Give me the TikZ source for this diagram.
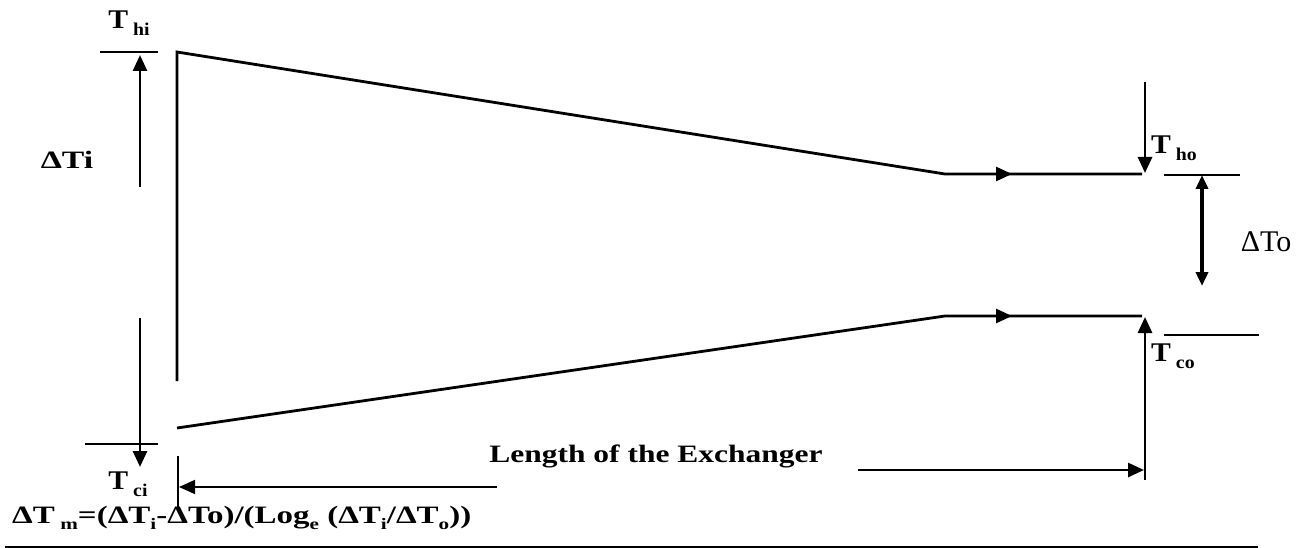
\documentclass[tikz,border=0pt]{standalone}
\usepackage{graphicx}
\usepackage{fontspec}
\setmainfont{Liberation Serif}
\usetikzlibrary{arrows.meta}
\newcommand\sbs[2][16]{\raisebox{-0.25em}{\fontsize{#1}{#1}\selectfont #2}}
\newcommand\Tlab[1]{\scalebox{1.1}[1]{\fontsize{27}{27}\selectfont\bfseries T\,\sbs[18]{#1}}}
\tikzset{
  main/.style={line width=2.8pt},
  thin/.style={line width=1.2pt},
  tip/.style={-{Triangle[width=14pt,length=16pt]}},
  tips/.style={{Triangle[width=12pt,length=14pt]}-{Triangle[width=12pt,length=14pt]}},
  lab/.style={inner sep=0pt},
  bigbold/.style={font=\fontsize{25}{25}\selectfont\bfseries},
}
\begin{document}
\begin{tikzpicture}[x=1pt,y=-1pt]
\useasboundingbox (0,0) rectangle (1311,548);
% key points
\coordinate (hv) at (177,381);
\coordinate (h0) at (177,52);
\coordinate (h1) at (945,174);
\coordinate (hm) at (1012,174);
\coordinate (h2) at (1142,174);
\coordinate (c0) at (177,428);
\coordinate (c1) at (945,316);
\coordinate (cm) at (1012,316);
\coordinate (c2) at (1142,316);
% hot and cold lines
\draw[main] (hv) -- (h0) -- (h1) -- (h2);
\draw[main,tip] (h1) -- (hm);
\draw[main] (c0) -- (c1) -- (c2);
\draw[main,tip] (c1) -- (cm);
% left ticks and Delta Ti arrows
\coordinate (tkl1) at (100,52);
\coordinate (tkl2) at (158,52);
\draw[thin] (tkl1) -- (tkl2);
\coordinate (tkl3) at (85,444);
\coordinate (tkl4) at (158,444);
\draw[thin] (tkl3) -- (tkl4);
\coordinate (ua0) at (140,187);
\coordinate (ua1) at (140,55);
\draw[main,tip] (ua0) -- (ua1);
\coordinate (da0) at (140,318);
\coordinate (da1) at (140,467);
\draw[main,tip] (da0) -- (da1);
\node[lab,bigbold] (dti) at (67,160) {\scalebox{1.35}[1]{ΔTi}};
\node[lab] (thi) at (129,23) {\Tlab{hi}};
\node[lab] (tci) at (128,484) {\Tlab{ci}};
% right side
\coordinate (tho0) at (1145,82);
\coordinate (tho1) at (1145,173);
\draw[main,tip] (tho0) -- (tho1);
\node[lab,anchor=west] (tho) at (1151,148) {\Tlab{ho}};
\coordinate (tkr1) at (1164,175);
\coordinate (tkr2) at (1240,175);
\draw[thin] (tkr1) -- (tkr2);
\coordinate (dto0) at (1202,175);
\coordinate (dto1) at (1202,286);
\draw[line width=4pt,tips] (dto0) -- (dto1);
\node[lab,font=\fontsize{30}{30}\selectfont] (dto) at (1266,242) {ΔTo};
\coordinate (tco0) at (1145,480);
\coordinate (tco1) at (1145,317);
\draw[thin] (tco0) -- (1145,355);
\draw[main,tip] (1145,355) -- (tco1);
\coordinate (tkr3) at (1164,335);
\coordinate (tkr4) at (1259,335);
\draw[thin] (tkr3) -- (tkr4);
\node[lab,anchor=west] (tco) at (1151,356) {\Tlab{co}};
% length of exchanger
\coordinate (lt0) at (178,456);
\coordinate (lt1) at (178,510);
\draw[thin] (lt0) -- (lt1);
\coordinate (la0) at (497,487);
\coordinate (la1) at (179,487);
\draw[line width=1.8pt,tip] (la0) -- (la1);
\coordinate (ra0) at (858,470);
\coordinate (ra1) at (1144,470);
\draw[main,tip] (ra0) -- (ra1);
\node[lab,bigbold] (len) at (656,456) {\scalebox{1.26}[1]{Length of the Exchanger}};
% formula
\node[lab,anchor=west,bigbold] (frm) at (12,518)
  {\scalebox{1.32}[1]{ΔT\,\sbs{m}=(ΔT\sbs{i}-ΔTo)/(Log\sbs{e} (ΔT\sbs{i}/ΔT\sbs{o}))}};
\coordinate (bl0) at (5,547);
\coordinate (bl1) at (1258,547);
\draw[line width=3pt] (bl0) -- (bl1);
\end{tikzpicture}
\end{document}
